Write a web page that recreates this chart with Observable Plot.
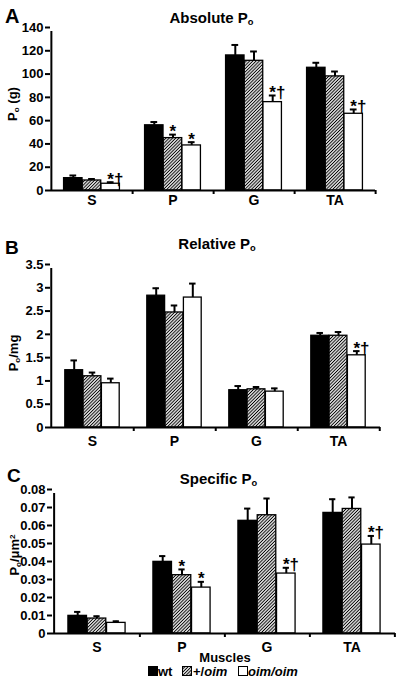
<!DOCTYPE html>
<html><head><meta charset="utf-8">
<script src="https://cdn.jsdelivr.net/npm/d3@7"></script>
<script src="https://cdn.jsdelivr.net/npm/@observablehq/plot@0.6"></script>
<style>
body{margin:0;background:#fff;font-family:"Liberation Sans",Arial,sans-serif;}
#root{position:relative;width:400px;height:679px;overflow:hidden;background:#fff;}
.abs{position:absolute;font-weight:bold;color:#000;white-space:nowrap;line-height:1;}
.ctr{transform:translateX(-50%);}
.rot{transform:translate(-50%,-50%) rotate(-90deg);}
.plot{position:absolute;left:0;}
sub{font-size:0.62em;vertical-align:-0.25em;line-height:0;}
sup{font-size:0.62em;vertical-align:0.45em;line-height:0;}
.sq{position:absolute;width:8px;height:8px;border:1px solid #000;box-sizing:content-box;}
</style></head><body>
<svg width="0" height="0" style="position:absolute">
<defs>
<pattern id="hatch" patternUnits="userSpaceOnUse" width="2.3" height="2.3" patternTransform="rotate(45)">
<rect width="2.3" height="2.3" fill="#fff"/>
<line x1="1.15" y1="0" x2="1.15" y2="2.3" stroke="#000" stroke-width="1.05"/>
</pattern>
</defs></svg>
<div id="root"></div>
<script>
// ---- data ----
const muscles = ["S", "P", "G", "TA"];
const genotypes = ["wt", "+/oim", "oim/oim"];

// Panel A: Absolute Po (g)
const absTicks = [0, 20, 40, 60, 80, 100, 120, 140];
const absWt = [10.6, 56, 116, 105.4];
const absWtErr = [2.3, 2.8, 9, 4.3];
const absHet = [8.6, 45, 111.4, 98];
const absHetErr = [1.3, 3, 8, 4.2];
const absOim = [5.8, 38.7, 75.9, 65.9];
const absOimErr = [1.3, 2.8, 5.7, 3.7];
const absSigHet = ["", "*", "", ""];
const absSigOim = ["*†", "*", "*†", "*†"];

// Panel B: Relative Po/mg
const relTicks = [0, 0.5, 1, 1.5, 2, 2.5, 3, 3.5];
const relWt = [1.23, 2.83, 0.80, 1.97];
const relWtErr = [0.21, 0.16, 0.09, 0.06];
const relHet = [1.10, 2.47, 0.82, 1.97];
const relHetErr = [0.08, 0.15, 0.05, 0.08];
const relOim = [0.95, 2.79, 0.77, 1.55];
const relOimErr = [0.10, 0.30, 0.07, 0.09];
const relSigHet = ["", "", "", ""];
const relSigOim = ["", "", "", "*†"];

// Panel C: Specific Po/um2
const speTicks = [0, 0.01, 0.02, 0.03, 0.04, 0.05, 0.06, 0.07, 0.08];
const speWt = [0.0098, 0.0398, 0.0626, 0.0670];
const speWtErr = [0.0022, 0.0032, 0.0068, 0.0076];
const speHet = [0.0083, 0.0324, 0.0657, 0.0692];
const speHetErr = [0.0013, 0.0032, 0.0093, 0.0064];
const speOim = [0.0059, 0.0255, 0.0333, 0.0494];
const speOimErr = [0.0009, 0.0032, 0.0032, 0.0048];
const speSigHet = ["", "*", "", ""];
const speSigOim = ["", "*", "*†", "*†"];

const fills = ["#000", "url(#hatch)", "#fff"];
const font = "'Liberation Sans', Arial, sans-serif";

function makePanel(cfg) {
  const {top, height, mt, mb, ml, mr, yMax, ticks, means, errs, sigs, barW, labelPad} = cfg;
  const W = 400;
  const bw = (W - ml - mr) / muscles.length;
  const rowsBy = means.map((arr, k) => arr.map((v, i) => ({
    muscle: muscles[i], genotype: genotypes[k], mean: v, hi: v + errs[k][i], sig: sigs[k][i]
  })));
  const marks = [];
  rowsBy.forEach((rows, k) => {
    const inL = bw / 2 + (k - 1.5) * barW;
    marks.push(Plot.barY(rows, {x: "muscle", y: "mean", fill: fills[k], stroke: "#000", strokeWidth: 1.3,
      insetLeft: inL, insetRight: bw - inL - barW}));
  });
  rowsBy.forEach((rows, k) => {
    const c = bw / 2 + (k - 1) * barW;
    marks.push(Plot.ruleX(rows, {x: "muscle", y1: "mean", y2: "hi", dx: (k - 1) * barW, stroke: "#000", strokeWidth: 2}));
    marks.push(Plot.tickY(rows, {x: "muscle", y: "hi", insetLeft: c - 3.5, insetRight: bw - c - 3.5, stroke: "#000", strokeWidth: 2}));
    marks.push(Plot.text(rows.filter(d => d.sig), {x: "muscle", y: "hi", text: "sig", dx: (k - 1) * barW - 3.4, dy: -3,
      textAnchor: "start", fontSize: 17, fontWeight: "bold", fill: "black"}));
  });
  marks.push(Plot.ruleY([0], {stroke: "#000", strokeWidth: 2}));
  marks.push(Plot.ruleX([muscles[0]], {x: d => d, dx: -bw / 2, y1: 0, y2: yMax, insetBottom: -4, stroke: "#000", strokeWidth: 2}));
  marks.push(Plot.ruleX(muscles, {x: d => d, dx: bw / 2, y1: 0, y2: 0, insetBottom: -4, stroke: "#000", strokeWidth: 2}));
  marks.push(Plot.axisY({ticks, tickFormat: d => String(d), tickSize: 5, tickPadding: 2, fontSize: 13, fontWeight: "bold", strokeWidth: 2, label: null}));
  marks.push(Plot.axisX({tickSize: 0, tickPadding: labelPad, fontSize: 14, fontWeight: "bold", label: null}));
  const svg = Plot.plot({
    width: W, height, marginTop: mt, marginBottom: mb, marginLeft: ml, marginRight: mr,
    x: {type: "band", domain: muscles, padding: 0},
    y: {domain: [0, yMax]},
    style: {background: "transparent", fontFamily: font, color: "#000", overflow: "visible"},
    marks
  });
  svg.classList.add("plot");
  svg.style.position = "absolute";
  svg.style.top = top + "px";
  svg.style.left = "0px";
  return svg;
}

const root = document.getElementById("root");
root.appendChild(makePanel({top: 0, height: 212, mt: 27, mb: 22, ml: 50, mr: 25, yMax: 140, ticks: absTicks,
  means: [absWt, absHet, absOim], errs: [absWtErr, absHetErr, absOimErr], sigs: [["","","",""], absSigHet, absSigOim], barW: 18.7, labelPad: 5}));
root.appendChild(makePanel({top: 212, height: 238, mt: 52, mb: 23, ml: 50, mr: 20, yMax: 3.5, ticks: relTicks,
  means: [relWt, relHet, relOim], errs: [relWtErr, relHetErr, relOimErr], sigs: [["","","",""], relSigHet, relSigOim], barW: 18.3, labelPad: 9}));
root.appendChild(makePanel({top: 450, height: 229, mt: 39, mb: 46, ml: 52, mr: 5, yMax: 0.08, ticks: speTicks,
  means: [speWt, speHet, speOim], errs: [speWtErr, speHetErr, speOimErr], sigs: [["","","",""], speSigHet, speSigOim], barW: 19.3, labelPad: 9}));

const overlay = `
<div class="abs" style="left:5px;top:5.5px;font-size:20px">A</div>
<div class="abs ctr" style="left:211.5px;top:10px;font-size:15px">Absolute P<sub>o</sub></div>
<div class="abs rot" style="left:12px;top:104px;font-size:13px">P<sub>o</sub> (g)</div>
<div class="abs" style="left:5px;top:237.5px;font-size:19px">B</div>
<div class="abs ctr" style="left:217px;top:236px;font-size:15px">Relative P<sub>o</sub></div>
<div class="abs rot" style="left:13px;top:353px;font-size:13px">P<sub>o</sub>/mg</div>
<div class="abs" style="left:7px;top:465.5px;font-size:19px">C</div>
<div class="abs ctr" style="left:218.5px;top:471px;font-size:15px">Specific P<sub>o</sub></div>
<div class="abs rot" style="left:14px;top:555px;font-size:13px">P<sub>o</sub>/μm<sup>2</sup></div>
<div class="abs ctr" style="left:225px;top:651px;font-size:13px">Muscles</div>
<div class="sq" style="left:148px;top:666px;background:#000"></div>
<div class="abs" style="left:158px;top:665px;font-size:13px">wt</div>
<div class="sq" style="left:182px;top:666px;background:#fff"></div>
<div class="abs" style="left:193px;top:665px;font-size:13px">+/<i>oim</i></div>
<div class="sq" style="left:238px;top:666px;background:#fff"></div>
<div class="abs" style="left:248px;top:665px;font-size:13px"><i>oim/oim</i></div>
`;
root.insertAdjacentHTML("beforeend", overlay);
// hatched legend swatch drawn with the same SVG pattern
const sw = root.querySelectorAll(".sq")[1];
sw.innerHTML = '<svg width="8" height="8" style="display:block"><rect width="8" height="8" fill="url(#hatch)"/></svg>';
</script>
</body></html>
